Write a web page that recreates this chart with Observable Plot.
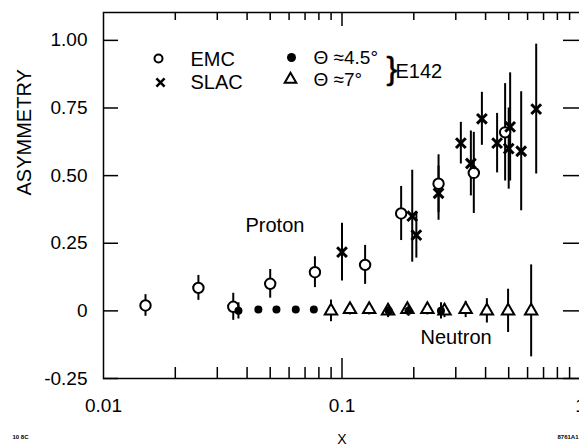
<!DOCTYPE html>
<html><head><meta charset="utf-8">
<script src="https://cdn.jsdelivr.net/npm/d3@7"></script>
<script src="https://cdn.jsdelivr.net/npm/@observablehq/plot@0.6"></script>
<style>body{margin:0;background:#fff;overflow:hidden}</style>
</head><body><div id="chart"></div>
<script>
// EMC proton (open circles)
const emcX = [0.015, 0.025, 0.035, 0.050, 0.077, 0.125, 0.177, 0.254, 0.357, 0.483];
const emcY = [0.02, 0.085, 0.015, 0.10, 0.143, 0.17, 0.36, 0.47, 0.51, 0.66];
const emcErr = [0.04, 0.046, 0.05, 0.053, 0.057, 0.072, 0.10, 0.107, 0.15, 0.18];
// SLAC proton (crosses)
const slacX = [0.100, 0.197, 0.205, 0.254, 0.315, 0.347, 0.386, 0.447, 0.507, 0.50, 0.564, 0.652];
const slacY = [0.217, 0.35, 0.28, 0.435, 0.62, 0.545, 0.71, 0.62, 0.68, 0.60, 0.59, 0.746];
const slacErr = [0.107, 0.17, 0.085, 0.10, 0.077, 0.12, 0.098, 0.11, 0.20, 0.15, 0.22, 0.24];
// E142 neutron, theta = 4.5 deg (filled circles)
const e45X = [0.0368, 0.0446, 0.0531, 0.064, 0.0762, 0.157, 0.19, 0.26];
const e45Y = [0.0, 0.005, 0.005, 0.005, 0.005, 0.0, 0.0, 0.0];
const e45Err = [0.03, 0.01, 0.01, 0.01, 0.01, 0.02, 0.02, 0.03];
// E142 neutron, theta = 7 deg (open triangles)
const e7X = [0.0899, 0.108, 0.130, 0.156, 0.188, 0.228, 0.269, 0.330, 0.405, 0.497, 0.621];
const e7Y = [0.0, 0.005, 0.005, 0.0, 0.005, 0.005, 0.0, 0.005, 0.0, 0.0, 0.0];
const e7Err = [0.04, 0.02, 0.02, 0.025, 0.02, 0.02, 0.025, 0.03, 0.045, 0.08, 0.17];

const yTickValues = [-0.25, 0, 0.25, 0.5, 0.75, 1.0];
const yTickLabels = ["-0.25", "0", "0.25", "0.50", "0.75", "1.00"];
const xTickValues = [0.01, 0.1, 1];
const xTickLabels = ["0.01", "0.1", "1"];
const xMinorTicks = [0.02, 0.03, 0.04, 0.05, 0.06, 0.07, 0.08, 0.09, 0.2, 0.3, 0.4, 0.5, 0.6, 0.7, 0.8, 0.9];
const xMajorTicks = [0.1];

const W = 579, H = 446, mL = 103, mR = -1, mT = 12, mB = 68;
const fw = W - mL - mR, fh = H - mT - mB;

const rows = (xs, ys, es) => xs.map((x, i) => ({x, y: ys[i], lo: ys[i] - es[i], hi: ys[i] + es[i]}));
const emc = rows(emcX, emcY, emcErr);
const slac = rows(slacX, slacY, slacErr);
const e45 = rows(e45X, e45Y, e45Err);
const e7 = rows(e7X, e7Y, e7Err);

const bar = (d) => Plot.ruleX(d, {x: "x", y1: "lo", y2: "hi", stroke: "black", strokeWidth: 2});
const font = "Liberation Sans, Arial, Helvetica, sans-serif";
const T = {fill: "black", lineAnchor: "middle"};

const chart = Plot.plot({
  width: W, height: H, marginLeft: mL, marginRight: mR, marginTop: mT, marginBottom: mB,
  x: {type: "log", domain: [0.01, 1], axis: null},
  y: {domain: [-0.25, 1.103], axis: null},
  style: {fontFamily: font, background: "white", color: "black", overflow: "hidden"},
  marks: [
    // ticks
    Plot.tickY(yTickValues, {y: d => d, insetRight: fw - 15, stroke: "black", strokeWidth: 1.5}),
    Plot.tickY(yTickValues, {y: d => d, insetLeft: fw - 17, stroke: "black", strokeWidth: 1.5}),
    Plot.tickX(xMinorTicks, {x: d => d, insetTop: fh - 11, stroke: "black", strokeWidth: 1.5}),
    Plot.tickX(xMajorTicks, {x: d => d, insetTop: fh - 20, stroke: "black", strokeWidth: 1.5}),
    Plot.tickX(xMinorTicks, {x: d => d, insetBottom: fh - 8, stroke: "black", strokeWidth: 1.5}),
    Plot.tickX(xMajorTicks, {x: d => d, insetBottom: fh - 14, stroke: "black", strokeWidth: 1.5}),
    Plot.frame({stroke: "black", strokeWidth: 1.5}),
    // tick labels
    Plot.text(yTickValues, {...T, y: d => d, text: (d, i) => yTickLabels[i], frameAnchor: "left", dx: -16, textAnchor: "end", fontSize: 19}),
    Plot.text(xTickValues, {...T, x: d => d, text: (d, i) => xTickLabels[i], frameAnchor: "bottom", dy: 27, fontSize: 19}),
    // axis titles
    Plot.text(["ASYMMETRY"], {...T, frameAnchor: "left", dx: -79, rotate: -90, fontSize: 20}),
    Plot.text(["X"], {...T, frameAnchor: "bottom", dy: 61, fontSize: 14}),
    // proton data
    bar(emc), bar(slac),
    Plot.dot(emc, {x: "x", y: "y", symbol: "circle", r: 5.2, stroke: "black", fill: "white", strokeWidth: 2}),
    Plot.dot(slac, {x: "x", y: "y", symbol: "times", r: 4.5, stroke: "black", strokeWidth: 3}),
    // neutron data
    bar(e7),
    Plot.dot(e7, {x: "x", y: "y", symbol: "triangle", r: 4.6, stroke: "black", fill: "white", strokeWidth: 2}),
    bar(e45),
    Plot.dot(e45, {x: "x", y: "y", symbol: "circle", r: 4, fill: "black"}),
    // annotations
    Plot.text(["Proton"], {...T, frameAnchor: "top-left", dx: 142, dy: 213, fontSize: 20}),
    Plot.text(["Neutron"], {...T, frameAnchor: "top-left", dx: 317, dy: 325, fontSize: 20}),
    // legend
    Plot.dot([0], {frameAnchor: "top-left", dx: 55, dy: 46, symbol: "circle", r: 4, stroke: "black", fill: "white", strokeWidth: 2}),
    Plot.text(["EMC"], {...T, frameAnchor: "top-left", dx: 87, dy: 47, textAnchor: "start", fontSize: 20}),
    Plot.dot([0], {frameAnchor: "top-left", dx: 57, dy: 70, symbol: "times", r: 3.8, stroke: "black", strokeWidth: 2.5}),
    Plot.text(["SLAC"], {...T, frameAnchor: "top-left", dx: 87, dy: 70, textAnchor: "start", fontSize: 20}),
    Plot.dot([0], {frameAnchor: "top-left", dx: 188, dy: 45, symbol: "circle", r: 4.5, fill: "black"}),
    Plot.text(["Θ ≈4.5°"], {...T, frameAnchor: "top-left", dx: 210, dy: 45, textAnchor: "start", fontSize: 19}),
    Plot.dot([0], {frameAnchor: "top-left", dx: 187, dy: 67, symbol: "triangle", r: 4.3, stroke: "black", fill: "white", strokeWidth: 2}),
    Plot.text(["Θ ≈7°"], {...T, frameAnchor: "top-left", dx: 210, dy: 67, textAnchor: "start", fontSize: 19}),
    Plot.text(["}"], {...T, frameAnchor: "top-left", dx: 283, dy: 56, fontSize: 32, stroke: "black", strokeWidth: 0.6}),
    Plot.text(["E142"], {...T, frameAnchor: "top-left", dx: 292, dy: 59, textAnchor: "start", fontSize: 20}),
    // figure ids
    Plot.text(["10 8C"], {...T, frameAnchor: "bottom-left", dx: -91, dy: 59, textAnchor: "start", fontSize: 6, fontWeight: "bold"}),
    Plot.text(["8761A1"], {...T, frameAnchor: "bottom-right", dx: -2, dy: 59, textAnchor: "end", fontSize: 6, fontWeight: "bold"})
  ]
});
document.getElementById("chart").appendChild(chart);
</script>
</body></html>
